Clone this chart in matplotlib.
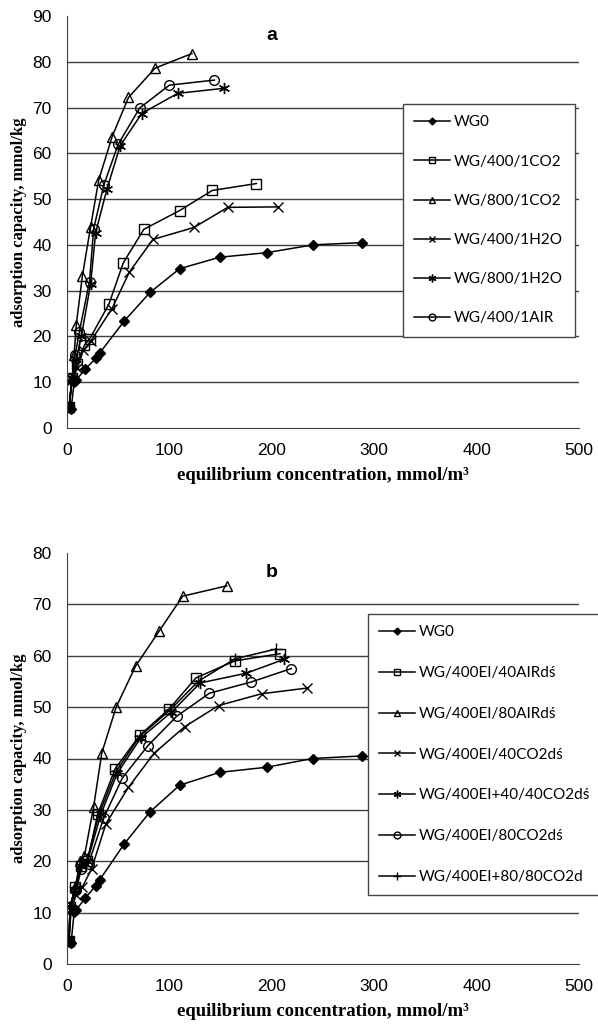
import numpy as np
import matplotlib.pyplot as plt

# ---- panel a data (x: mmol/m3, y: mmol/kg) ----
a_wg0_x = [2, 4, 7, 9, 18, 28, 32, 56, 81, 110, 149, 195, 240, 288]
a_wg0_y = [4.5, 4.1, 10.1, 10.5, 12.9, 15.2, 16.4, 23.4, 29.6, 34.8, 37.3, 38.3, 40.0, 40.5]

a_400co2_x = [2, 5, 10, 17, 22, 41, 55, 75, 110, 142, 185]
a_400co2_y = [4.5, 11, 14, 18.1, 19.4, 27.1, 36.1, 43.4, 47.5, 51.9, 53.4]

a_800co2_x = [2, 5, 7, 9, 15, 23, 31, 44, 60, 86, 122]
a_800co2_y = [4.5, 11, 16, 22.5, 33.2, 43.9, 54.2, 63.6, 72.2, 78.6, 81.8]

a_400h2o_x = [2, 5, 10, 16, 23, 44, 61, 84, 124, 157, 206]
a_400h2o_y = [4.5, 10.5, 13, 17, 18.9, 26.1, 34.1, 41.2, 43.8, 48.2, 48.3]

a_800h2o_x = [2, 5, 9, 14, 23, 28, 39, 52, 73, 108, 153]
a_800h2o_y = [4.5, 11, 15, 20, 31.4, 42.7, 52.2, 61.7, 68.7, 73.1, 74.2]

a_400air_x = [2, 5, 8, 12, 22, 26, 36, 50, 71, 100, 144]
a_400air_y = [4.5, 11, 16, 21, 32, 43.5, 53.1, 62, 69.9, 74.9, 76.0]

# ---- panel b data ----
b_wg0_x = a_wg0_x
b_wg0_y = a_wg0_y

b_40air_x = [2, 3, 8, 14, 20, 30, 47, 71, 100, 126, 164, 208]
b_40air_y = [4.5, 11, 15, 19, 20, 29.2, 38, 44.5, 49.7, 55.7, 59, 60.4]

b_80air_x = [2, 3, 8, 13, 17, 26, 34, 48, 67, 90, 113, 156]
b_80air_y = [4.5, 11, 15, 20, 21, 30.6, 41.1, 50, 58, 64.8, 71.6, 73.6]

b_40co2_x = [2, 4, 9, 15, 24, 38, 60, 85, 115, 148, 190, 234]
b_40co2_y = [4.5, 10.5, 13.5, 15, 18.5, 27.3, 34.4, 41, 46.2, 50.3, 52.6, 53.7]

b_4040co2_x = [2, 3, 8, 14, 20, 33, 49, 72, 102, 130, 175, 212]
b_4040co2_y = [4.5, 11, 14.5, 19, 20, 29.1, 37.1, 44, 49, 54.7, 56.6, 59.3]

b_80co2_x = [2, 3, 9, 14, 21, 36, 54, 79, 107, 139, 180, 219]
b_80co2_y = [4.5, 11, 14.5, 18.5, 19.5, 28.5, 36.2, 42.5, 48.2, 52.7, 54.9, 57.5]

b_8080co2_x = [2, 3, 8, 14, 20, 31, 48, 71, 101, 128, 164, 204]
b_8080co2_y = [4.5, 11, 15, 19.5, 20.5, 29, 37.5, 44.3, 49.5, 55, 59.4, 61.3]

plt.rcParams['font.family'] = ['Liberation Sans', 'DejaVu Sans']

fig = plt.figure(figsize=(5.98, 10.25), dpi=100)
ax_a = fig.add_axes([67/598, 1 - 428/1025, 512/598, 412/1025])
ax_b = fig.add_axes([67/598, 1 - 964/1025, 512/598, 411/1025])

leg_font = dict(family='Lato', size=11)

styles = {
    'diamond': dict(marker='D', ms=5, mfc='black', mec='black'),
    'square': dict(marker='s', ms=7, mfc='none', mec='black', mew=1),
    'triangle': dict(marker='^', ms=7, mfc='none', mec='black', mew=1),
    'x': dict(marker='x', ms=7, mec='black', mew=1),
    'ast': dict(marker=(6, 2, 0), ms=8, mec='black', mew=1),
    'circle': dict(marker='o', ms=7, mfc='none', mec='black', mew=1),
    'plus': dict(marker='+', ms=8, mec='black', mew=1),
}


def setup(ax, ymax, letter):
    ax.set_xlim(0, 500)
    ax.set_ylim(0, ymax)
    ax.set_xticks(range(0, 501, 100))
    ax.set_yticks(range(0, ymax + 1, 10))
    for v in range(10, ymax, 10):
        ax.axhline(v, color='#404040', lw=1, zorder=0)
    for s in ['top', 'right']:
        ax.spines[s].set_visible(False)
    for s in ['left', 'bottom']:
        ax.spines[s].set_color('#404040')
    ax.tick_params(axis='y', length=0, labelsize=12.5, pad=11, colors='black')
    ax.tick_params(axis='x', length=0, labelsize=12.5, pad=11, colors='black')
    ax.set_xlabel('equilibrium concentration, mmol/m\u00b3', labelpad=6,
                  family='Liberation Serif', fontweight='bold', fontsize=13.5)
    ax.set_ylabel('adsorption capacity, mmol/kg', labelpad=4,
                  family='Liberation Serif', fontweight='bold', fontsize=12)
    ax.text(0.4, 0.953, letter, transform=ax.transAxes, fontsize=14, fontweight='bold',
            ha='center', va='center')


def draw(ax, x, y, st, label):
    ax.plot(x, y, color='black', lw=1.1, label=label, **styles[st])


setup(ax_a, 90, 'a')
draw(ax_a, a_wg0_x, a_wg0_y, 'diamond', 'WG0')
draw(ax_a, a_400co2_x, a_400co2_y, 'square', 'WG/400/1CO2')
draw(ax_a, a_800co2_x, a_800co2_y, 'triangle', 'WG/800/1CO2')
draw(ax_a, a_400h2o_x, a_400h2o_y, 'x', 'WG/400/1H2O')
draw(ax_a, a_800h2o_x, a_800h2o_y, 'ast', 'WG/800/1H2O')
draw(ax_a, a_400air_x, a_400air_y, 'circle', 'WG/400/1AIR')

setup(ax_b, 80, 'b')
draw(ax_b, b_wg0_x, b_wg0_y, 'diamond', 'WG0')
draw(ax_b, b_40air_x, b_40air_y, 'square', 'WG/400EI/40AIRdś')
draw(ax_b, b_80air_x, b_80air_y, 'triangle', 'WG/400EI/80AIRdś')
draw(ax_b, b_40co2_x, b_40co2_y, 'x', 'WG/400EI/40CO2dś')
draw(ax_b, b_4040co2_x, b_4040co2_y, 'ast', 'WG/400EI+40/40CO2dś')
draw(ax_b, b_80co2_x, b_80co2_y, 'circle', 'WG/400EI/80CO2dś')
draw(ax_b, b_8080co2_x, b_8080co2_y, 'plus', 'WG/400EI+80/80CO2d')

leg_a = ax_a.legend(loc='upper left', bbox_to_anchor=((403 - 67) / 512, (428 - 104) / 412),
                    prop=leg_font, markerscale=0.7, handlelength=2.3, handletextpad=0.3,
                    labelspacing=1.65, borderpad=0.75, fancybox=False, framealpha=1,
                    edgecolor='#444444', borderaxespad=0)
leg_a.get_frame().set_linewidth(1)
leg_b = ax_b.legend(loc='upper left', bbox_to_anchor=((368 - 67) / 512, (964 - 614) / 411),
                    prop=leg_font, markerscale=0.7, handlelength=2.3, handletextpad=0.3,
                    labelspacing=1.75, borderpad=0.75, fancybox=False, framealpha=1,
                    edgecolor='#444444', borderaxespad=0)
leg_b.get_frame().set_linewidth(1)

fig.savefig('out.png', dpi=100)
